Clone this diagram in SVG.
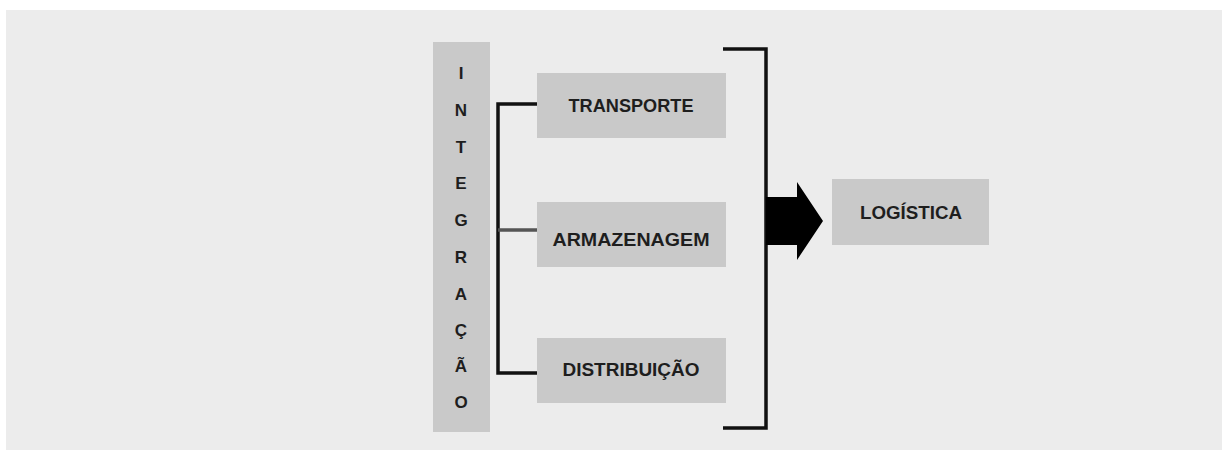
<svg xmlns="http://www.w3.org/2000/svg" width="1222" height="450" viewBox="0 0 1222 450">
  <style>
    .box { fill: #c9c9c9; }
    .lbl { font-family: "Liberation Sans Narrow", "Liberation Sans", Arial, sans-serif; font-weight: bold; font-size: 18px; fill: #1e1e1e; text-anchor: middle; dominant-baseline: central; }
    .vl { font-family: "Liberation Sans Narrow", "Liberation Sans", Arial, sans-serif; font-weight: bold; font-size: 17px; fill: #1e1e1e; text-anchor: middle; dominant-baseline: central; }
    .wire { fill: none; stroke: #111; stroke-width: 3.5; }
  </style>
  <rect x="0" y="0" width="1222" height="450" fill="#ffffff"/>
  <rect x="6" y="10" width="1216" height="440" fill="#ececec"/>

  <g id="integracao">
    <rect class="box" x="433" y="42" width="57" height="390"/>
    <text class="vl" x="461" y="73">I</text>
    <text class="vl" x="461" y="110">N</text>
    <text class="vl" x="461" y="147">T</text>
    <text class="vl" x="461" y="183">E</text>
    <text class="vl" x="461" y="220">G</text>
    <text class="vl" x="461" y="257">R</text>
    <text class="vl" x="461" y="294">A</text>
    <text class="vl" x="461" y="330">Ç</text>
    <text class="vl" x="461" y="366">Ã</text>
    <text class="vl" x="461" y="402">O</text>
  </g>

  <g id="transporte">
    <rect class="box" x="537" y="73" width="189" height="65"/>
    <text class="lbl" x="631" y="106" textLength="125" lengthAdjust="spacingAndGlyphs">TRANSPORTE</text>
  </g>

  <g id="armazenagem">
    <rect class="box" x="537" y="202" width="189" height="65"/>
    <text class="lbl" x="631" y="240" textLength="157" lengthAdjust="spacingAndGlyphs">ARMAZENAGEM</text>
  </g>

  <g id="distribuicao">
    <rect class="box" x="537" y="338" width="189" height="65"/>
    <text class="lbl" x="631" y="370" textLength="137" lengthAdjust="spacingAndGlyphs">DISTRIBUIÇÃO</text>
  </g>

  <g id="logistica">
    <rect class="box" x="832" y="179" width="157" height="66"/>
    <text class="lbl" x="911" y="213" textLength="102" lengthAdjust="spacingAndGlyphs">LOGÍSTICA</text>
  </g>

  <g id="connectors">
    <!-- branch joining the three activities -->
    <path class="wire" d="M537 104 H498 V373 H537"/>
    <path d="M498 230 H537" fill="none" stroke="#555" stroke-width="3.5"/>
    <!-- closing bracket -->
    <path class="wire" d="M723 49 H766 V428 H723" stroke="#1a1a1a"/>
    <!-- block arrow into LOGÍSTICA -->
    <polygon points="766,197 797,197 797,182 823,221 797,260 797,245 766,245" fill="#000"/>
  </g>
</svg>
